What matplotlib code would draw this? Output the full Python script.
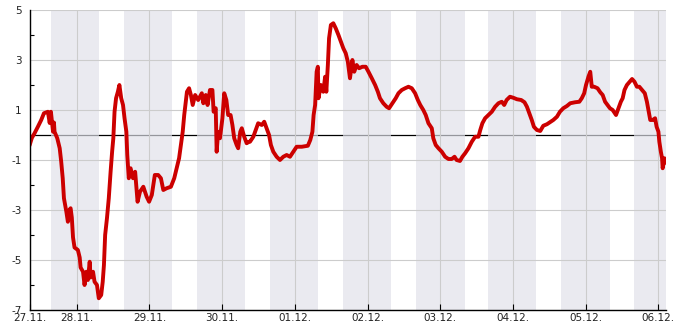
import matplotlib
matplotlib.use("Agg")
import matplotlib.pyplot as plt

# hours since 27.11. 00:00, temperature
hours = [
    8.6, 9.2, 10.1, 11.2, 12.3, 13.2, 14.5, 15.1, 15.5, 15.8, 16.2, 16.5, 16.7,
    17.6, 18.4, 18.9, 19.4, 19.8, 20.6, 21.1, 21.6, 22.0, 22.4, 22.8, 23.3,
    24.4, 25.0, 25.3, 26.1, 26.6, 27.2, 27.7, 28.3, 28.6, 29.4, 29.9, 30.7,
    31.3, 32.1, 32.6, 33.0, 33.4, 34.0, 34.6, 35.2, 35.7, 36.1, 36.5, 37.0,
    37.6, 38.1, 38.7, 39.3, 39.8, 40.4, 40.7, 41.2, 41.8, 42.6, 43.3, 44.1,
    44.9, 46.0, 47.1, 47.9, 48.8, 49.8, 50.9, 51.8, 52.6, 53.7, 55.1, 56.2,
    57.0, 57.8, 58.4, 59.0, 59.5, 60.0, 60.4, 61.1, 61.7, 62.3, 63.1, 64.1,
    65.3, 65.8, 66.6, 67.2, 68.0, 68.8, 69.2, 69.9, 70.2, 70.7, 71.3, 72.1,
    72.7, 73.4, 74.0, 74.8, 75.4, 76.0, 76.8, 77.3, 78.0, 78.5, 79.3, 80.1,
    80.9, 81.2, 82.3, 83.1, 83.9, 85.1, 85.9, 86.7, 87.5, 88.1, 88.9, 90.0,
    91.1, 92.2, 93.3, 94.4, 95.5, 96.6, 98.3, 100.3, 101.1, 101.8, 102.2,
    102.7, 103.2, 103.6, 103.8, 104.6, 105.4, 106.0, 106.4, 106.9, 107.3,
    107.9, 108.7, 109.5, 110.4, 111.2, 112.0, 112.8, 113.5, 114.2, 115.0,
    115.6, 116.4, 117.2, 118.3, 119.4, 120.3, 121.4, 122.5, 123.4, 124.1,
    125.2, 126.3, 127.1, 128.2, 129.3, 130.2, 131.3, 132.4, 133.5, 134.6,
    135.7, 136.6, 137.4, 138.4, 139.2, 140.1, 141.2, 141.7, 142.5, 143.4,
    144.5, 145.6, 146.7, 147.8, 148.7, 149.4, 150.5, 151.3, 152.2, 153.3,
    154.4, 155.5, 156.6, 157.2, 157.9, 158.8, 159.9, 161.0, 162.1, 163.2,
    164.3, 165.1, 165.9, 167.0, 168.1, 169.3, 170.7, 171.8, 172.6, 173.4,
    174.2, 174.9, 175.9, 177.0, 178.0, 179.2, 180.2, 181.3, 182.5, 183.5,
    184.6, 185.8, 186.9, 188.5, 189.9, 190.7, 191.5, 192.1, 192.9, 193.5,
    194.0, 194.8, 195.9, 196.8, 197.6, 198.4, 199.2, 200.0, 200.9, 202.0,
    202.8, 203.6, 204.2, 204.8, 205.6, 206.4, 207.3, 208.1, 208.9, 209.7,
    210.6, 211.5, 212.2, 212.8, 213.3, 214.1, 214.9, 215.4, 216.0, 216.3,
    216.8, 217.2, 217.4, 218.0, 218.3,
]
temps = [
    -0.36, -0.12, 0.07, 0.33, 0.6, 0.87, 0.93, 0.48, 0.93, 0.6, 0.13, 0.5, 0.13,
    -0.13, -0.53, -1.07, -1.73, -2.53, -3.07, -3.47, -3.0, -2.93, -3.3, -4.1, -4.5,
    -4.6, -4.9, -5.3, -5.47, -6.0, -5.47, -5.8, -5.07, -5.7, -5.47, -5.87, -6.0,
    -6.53, -6.4, -5.87, -5.2, -4.0, -3.33, -2.53, -1.47, -0.67, -0.13, 0.93, 1.47,
    1.73, 2.0, 1.47, 1.2, 0.67, 0.13, -0.8, -1.73, -1.33, -1.73, -1.47, -2.67,
    -2.27, -2.07, -2.47, -2.67, -2.4, -1.6, -1.6, -1.73, -2.2, -2.13, -2.07, -1.73,
    -1.33, -0.93, -0.4, 0.13, 0.8, 1.33, 1.73, 1.87, 1.6, 1.2, 1.6, 1.4,
    1.67, 1.27, 1.6, 1.2, 1.8, 1.8, 0.93, 1.07, -0.67, 0.13, -0.13, 0.67,
    1.67, 1.4, 0.8, 0.8, 0.4, -0.13, -0.4, -0.53, 0.13, 0.27, -0.07, -0.33,
    -0.27, -0.27, -0.07, 0.2, 0.47, 0.4, 0.53, 0.27, 0.0, -0.4, -0.67, -0.87,
    -1.0, -0.87, -0.8, -0.87, -0.67, -0.47, -0.47, -0.43, -0.2, 0.13, 0.8,
    1.2, 2.53, 2.73, 1.47, 2.0, 1.73, 2.33, 1.73, 2.8, 3.87,
    4.4, 4.47, 4.27, 4.0, 3.73, 3.47, 3.27, 2.93, 2.27, 3.0,
    2.53, 2.8, 2.67, 2.73, 2.73, 2.53, 2.27, 2.0, 1.73, 1.47,
    1.27, 1.13, 1.07, 1.27, 1.47, 1.67, 1.8, 1.87, 1.93, 1.87,
    1.67, 1.4, 1.2, 1.0, 0.8, 0.47, 0.27, -0.13, -0.4, -0.53,
    -0.67, -0.87, -0.96, -0.96, -0.87, -1.0, -1.04, -0.87, -0.73, -0.53,
    -0.27, -0.07, -0.07, 0.2, 0.47, 0.67, 0.8, 0.93, 1.13, 1.27,
    1.33, 1.2, 1.4, 1.53, 1.49, 1.43, 1.4, 1.31, 1.13, 0.87,
    0.6, 0.33, 0.2, 0.16, 0.37, 0.43, 0.51, 0.6, 0.73, 0.93,
    1.07, 1.16, 1.27, 1.31, 1.33, 1.47, 1.67, 2.0, 2.33, 2.53,
    1.93, 1.93, 1.87, 1.71, 1.6, 1.33, 1.2, 1.07, 1.0, 0.8,
    1.07, 1.33, 1.47, 1.8, 2.0, 2.11, 2.24, 2.13, 1.93, 1.93,
    1.8, 1.67, 1.33, 0.93, 0.6, 0.6, 0.67, 0.33, 0.13, -0.27,
    -0.67, -0.93, -1.33, -0.93, -1.1,
]

# night bands (hours since 27.11. 00:00)
night_start = [15.5, 39.6, 63.7, 87.8, 111.9, 136.0, 159.8, 183.9, 208.0]
night_end = [31.4, 55.4, 79.6, 103.6, 127.8, 152.0, 175.6, 200.0, 219.0]

day_labels = ["28.11.", "29.11.", "30.11.", "01.12.", "02.12.",
              "03.12.", "04.12.", "05.12.", "06.12."]
start_label = "27.11."
x_min, x_max = 8.6, 218.4

plt.rcParams["axes.unicode_minus"] = False
plt.rcParams["font.size"] = 7.5

fig = plt.figure(figsize=(6.85, 3.3), dpi=100)
ax = fig.add_axes([30 / 685, 20 / 330, 635.7 / 685, 300 / 330])

# zero line sits under the night bands
ax.axhline(0, color="black", linewidth=0.9, zorder=0.8)
for s, e in zip(night_start, night_end):
    ax.axvspan(s, e, facecolor=(224 / 255, 225 / 255, 234 / 255),
               alpha=0.67, linewidth=0, zorder=1)

ax.plot(hours, temps, color="#cc0000", linewidth=2.8, zorder=3)

ax.set_xlim(x_min, x_max)
ax.set_ylim(-7, 5)

day_ticks = [24 * (i + 1) for i in range(len(day_labels))]
ax.set_xticks([x_min] + day_ticks)
ax.set_xticklabels([start_label] + day_labels)
ax.set_yticks([-7, -5, -3, -1, 1, 3, 5])
ax.set_yticks([-6, -4, -2, 0, 2, 4], minor=True)

ax.set_axisbelow("line")
ax.grid(True, which="major", color="#cccccc", linewidth=0.8)
ax.tick_params(axis="both", which="major", direction="in", length=4,
               width=0.8, colors="black", labelcolor="#222222")
ax.tick_params(axis="y", which="major", pad=6, length=0)
ax.tick_params(axis="x", which="major", pad=2)
ax.tick_params(axis="y", which="minor", direction="in", length=3, width=0.8)

for side in ["top", "right"]:
    ax.spines[side].set_visible(False)
for side in ["left", "bottom"]:
    ax.spines[side].set_linewidth(1.0)
    ax.spines[side].set_zorder(4)

fig.savefig("out.png", dpi=100)
